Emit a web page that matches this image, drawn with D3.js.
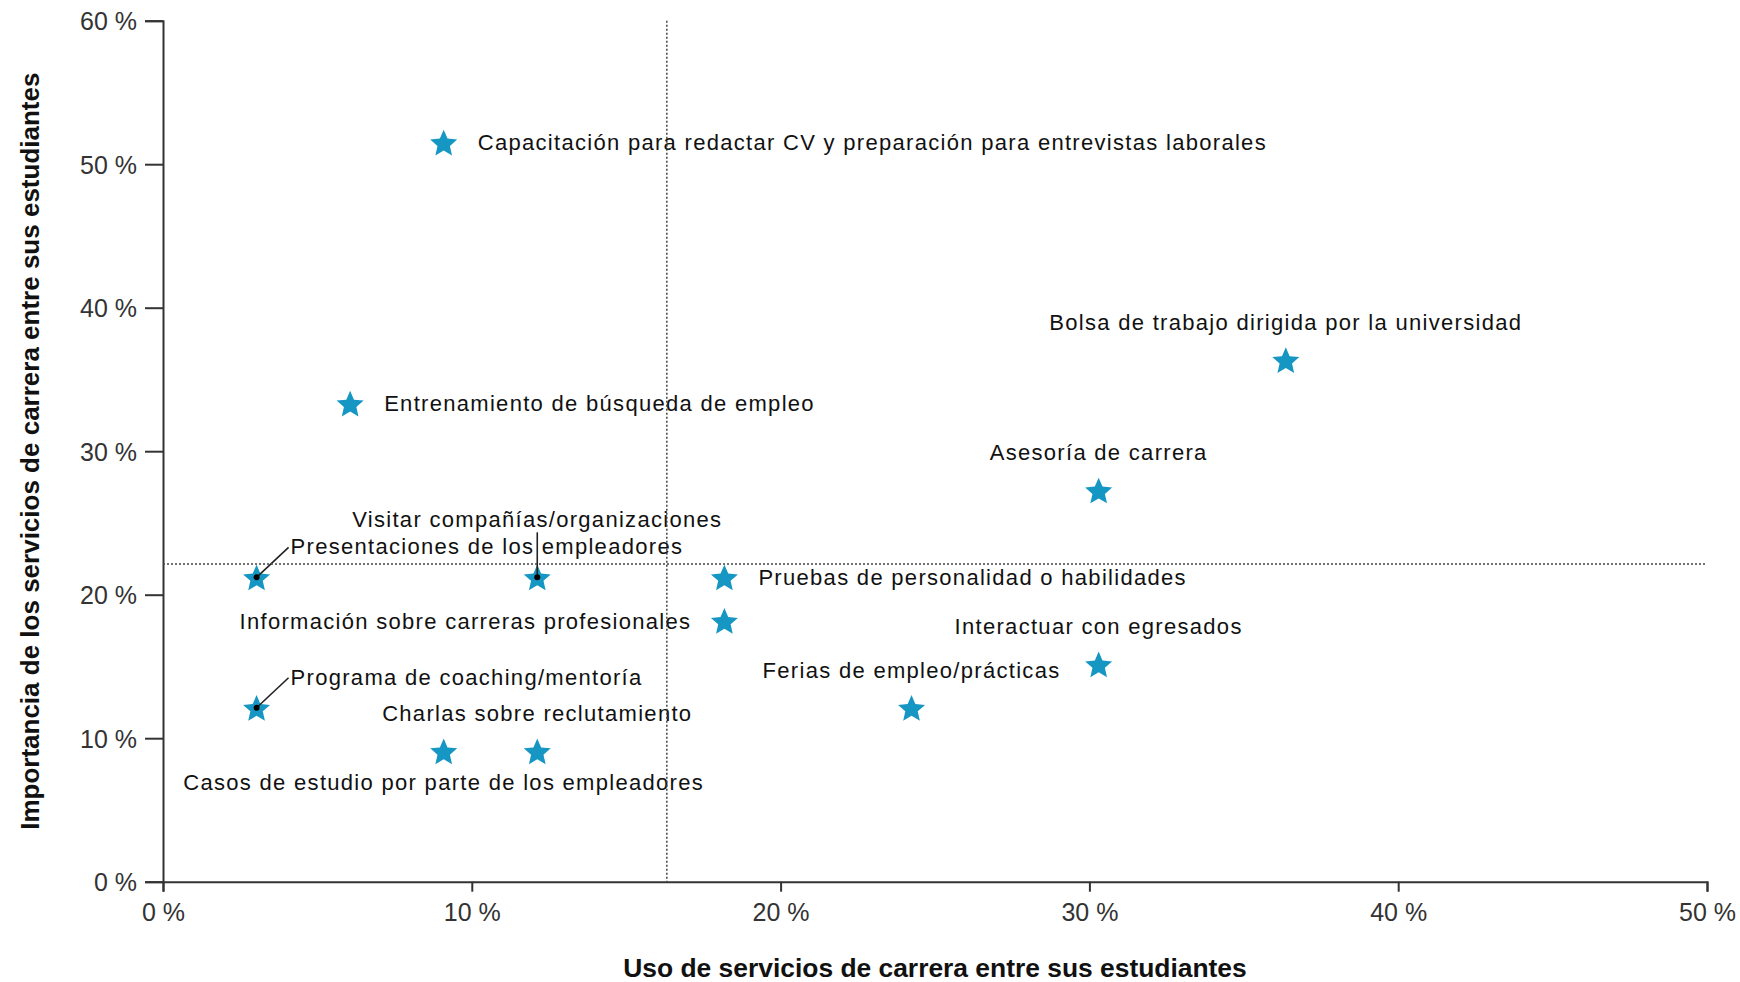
<!DOCTYPE html>
<html>
<head>
<meta charset="utf-8">
<script src="https://cdn.jsdelivr.net/npm/d3@7"></script>
<style>
  html, body { margin: 0; padding: 0; background: #ffffff; }
  svg { display: block; }
  text { font-family: "Liberation Sans", Arial, sans-serif; }
</style>
</head>
<body>
<svg id="chart" width="1740" height="982"></svg>
<script>
// Career services: share of students using each service vs. share rating it important (%)
const services = [
  "Capacitación para redactar CV y preparación para entrevistas laborales",
  "Entrenamiento de búsqueda de empleo",
  "Bolsa de trabajo dirigida por la universidad",
  "Asesoría de carrera",
  "Presentaciones de los empleadores",
  "Visitar compañías/organizaciones",
  "Pruebas de personalidad o habilidades",
  "Información sobre carreras profesionales",
  "Interactuar con egresados",
  "Ferias de empleo/prácticas",
  "Programa de coaching/mentoría",
  "Charlas sobre reclutamiento",
  "Casos de estudio por parte de los empleadores"
];
const usage      = [9.09, 6.06, 36.36, 30.30, 3.03, 12.12, 18.18, 18.18, 30.30, 24.24, 3.03, 12.12, 9.09];
const importance = [51.52, 33.33, 36.36, 27.27, 21.21, 21.21, 21.21, 18.18, 15.15, 12.12, 12.12, 9.09, 9.09];

const xTicks = [0, 10, 20, 30, 40, 50];
const yTicks = [0, 10, 20, 30, 40, 50, 60];
const xTitle = "Uso de servicios de carrera entre sus estudiantes";
const yTitle = "Importancia de los servicios de carrera entre sus estudiantes";

// Where each label sits relative to its star (layout only)
const labelPlacement = ["right", "right", "above", "above", "leader", "leaderUp",
                        "right", "left", "above", "above", "leader", "above", "below"];

const svg = d3.select("#chart");
const plot = { left: 163, right: 1707, top: 20.7, bottom: 881.7 };

const x = d3.scaleLinear().domain([0, 50]).range([plot.left, plot.right]);
const y = d3.scaleLinear().domain([0, 60]).range([plot.bottom, plot.top]);

const pct = d => d + " %";
const axisColor = "#333333";

// Y axis
const gy = svg.append("g")
  .attr("transform", `translate(${plot.left},0)`)
  .call(d3.axisLeft(y).tickValues(yTicks).tickFormat(pct).tickSize(18).tickSizeOuter(18).tickPadding(8));

// X axis
const gx = svg.append("g")
  .attr("transform", `translate(0,${plot.bottom})`)
  .call(d3.axisBottom(x).tickValues(xTicks).tickFormat(pct).tickSize(10).tickSizeOuter(10).tickPadding(12));

[gx, gy].forEach(g => {
  g.selectAll("path.domain, .tick line").attr("stroke", axisColor).attr("stroke-width", 2);
  g.selectAll(".tick text")
    .attr("fill", "#333333")
    .style("font-size", "25px")
    .style("font-family", "'Liberation Sans', Arial, sans-serif");
});
gy.selectAll(".tick text").attr("dy", "0.36em");

// Axis titles
svg.append("text")
  .attr("x", (plot.left + plot.right) / 2)
  .attr("y", 977)
  .attr("text-anchor", "middle")
  .attr("fill", "#111111")
  .style("font-size", "26.4px")
  .style("font-weight", "bold")
  .text(xTitle);

svg.append("text")
  .attr("transform", `translate(38.5,${(plot.top + plot.bottom) / 2}) rotate(-90)`)
  .attr("text-anchor", "middle")
  .attr("fill", "#111111")
  .style("font-size", "26px")
  .style("font-weight", "bold")
  .text(yTitle);

const points = services.map((name, i) => ({
  name,
  u: usage[i],
  imp: importance[i],
  place: labelPlacement[i],
  cx: x(usage[i]),
  cy: y(importance[i])
}));

// Five-pointed star with a fairly full body; size is the outer radius squared
const fatStar = {
  draw(context, size) {
    const R = Math.sqrt(size), r = R * 0.46;
    for (let k = 0; k < 10; k++) {
      const rad = k % 2 ? r : R;
      const a = -Math.PI / 2 + k * Math.PI / 5;
      const px = rad * Math.cos(a), py = rad * Math.sin(a);
      if (k === 0) context.moveTo(px, py); else context.lineTo(px, py);
    }
    context.closePath();
  }
};

// Stars
const star = d3.symbol().type(fatStar).size(14.2 * 14.2);
svg.append("g").selectAll("path")
  .data(points)
  .join("path")
  .attr("transform", d => `translate(${d.cx},${d.cy + 1.5})`)
  .attr("d", star)
  .attr("fill", "#1697c3");

// Labels
const labelGroup = svg.append("g")
  .style("font-size", "22px")
  .style("letter-spacing", "1.3px")
  .attr("fill", "#111111");

function labelPos(d) {
  switch (d.place) {
    case "right":    return { x: d.cx + 34, y: d.cy, anchor: "start" };
    case "left":     return { x: d.cx - 33, y: d.cy, anchor: "end" };
    case "above":    return { x: d.cx, y: d.cy - 38, anchor: "middle" };
    case "below":    return { x: d.cx, y: d.cy + 31, anchor: "middle" };
    case "leader":   return { x: d.cx + 34, y: d.cy - 31, anchor: "start" };
    case "leaderUp": return { x: d.cx, y: d.cy - 58, anchor: "middle" };
  }
}

labelGroup.selectAll("text")
  .data(points)
  .join("text")
  .attr("x", d => labelPos(d).x)
  .attr("y", d => labelPos(d).y)
  .attr("dy", "0.36em")
  .attr("text-anchor", d => labelPos(d).anchor)
  .text(d => d.name);

// Leader lines with a dot on the star
const led = points.filter(d => d.place === "leader" || d.place === "leaderUp");
svg.append("g").selectAll("line")
  .data(led)
  .join("line")
  .attr("x1", d => d.cx)
  .attr("y1", d => d.cy)
  .attr("x2", d => d.place === "leader" ? d.cx + 32 : d.cx)
  .attr("y2", d => d.place === "leader" ? d.cy - 30 : d.cy - 45)
  .attr("stroke", "#222222")
  .attr("stroke-width", 1.6);

svg.append("g").selectAll("circle")
  .data(led)
  .join("circle")
  .attr("cx", d => d.cx)
  .attr("cy", d => d.cy)
  .attr("r", 3)
  .attr("fill", "#000000");

// Mean reference lines
const meanU = d3.mean(usage);
const meanI = d3.mean(importance);
const ref = svg.append("g")
  .attr("stroke", "#444444")
  .attr("stroke-width", 1.5)
  .attr("stroke-dasharray", "2,2");
ref.append("line")
  .attr("x1", x(meanU)).attr("x2", x(meanU))
  .attr("y1", plot.top).attr("y2", plot.bottom);
ref.append("line")
  .attr("x1", plot.left).attr("x2", plot.right)
  .attr("y1", y(meanI)).attr("y2", y(meanI));
</script>
</body>
</html>
